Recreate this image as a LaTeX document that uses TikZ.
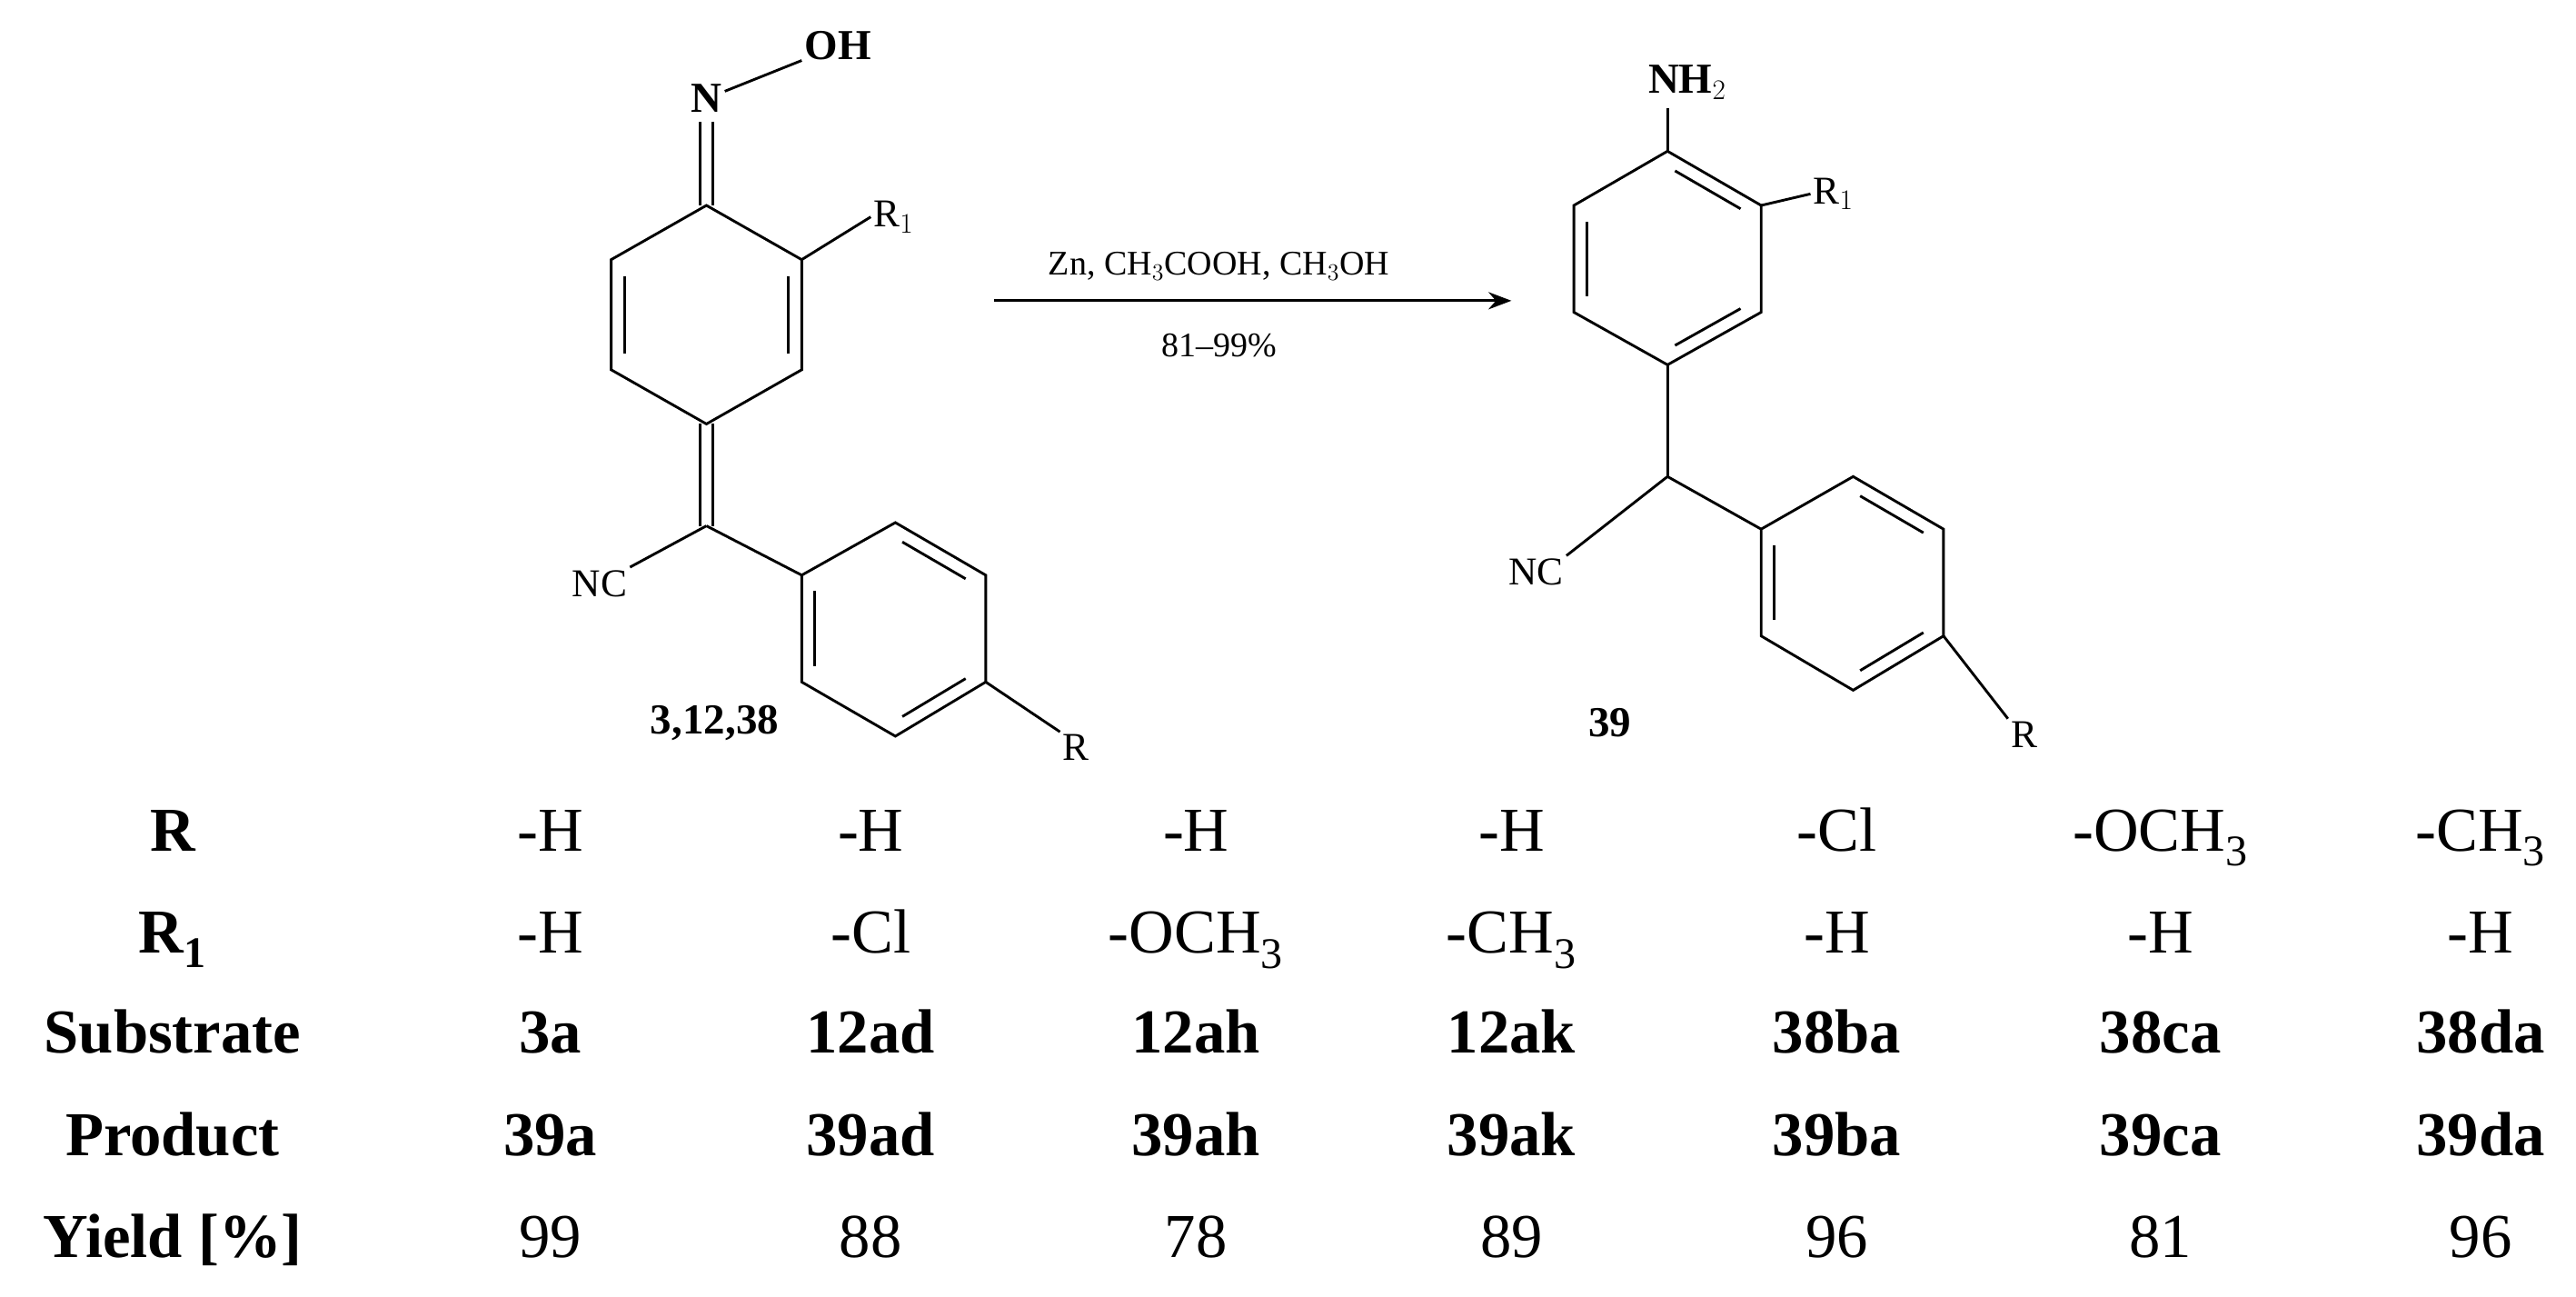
\documentclass[tikz,border=0pt]{standalone}
\usepackage{fontspec}
\setmainfont{Liberation Serif}
\usetikzlibrary{calc,arrows.meta}
\newcommand{\sth}{\textsubscript{3}}
\begin{document}
\begin{tikzpicture}[x=1pt,y=-1pt,line width=1.6pt,
  lab/.style={font=\fontsize{24}{26}\selectfont,inner sep=1pt},
  tb/.style={font=\fontsize{38}{40}\selectfont,anchor=base},
  tbb/.style={font=\bfseries\fontsize{38}{40}\selectfont,anchor=base}]
\useasboundingbox (0,0) rectangle (1568,789);
% left molecule
\coordinate (a1) at (430,125);\coordinate (a2) at (488,158);\coordinate (a3) at (488,225);
\coordinate (a4) at (430,258);\coordinate (a5) at (372,225);\coordinate (a6) at (372,158);
\draw (a1)--(a2)--(a3)--(a4)--(a5)--(a6)--cycle;
\draw ($(a2)!0.15!(a3)+(-8,0)$)--($(a2)!0.85!(a3)+(-8,0)$);
\draw ($(a5)!0.15!(a6)+(8,0)$)--($(a5)!0.85!(a6)+(8,0)$);
\node[lab,font=\bfseries\fontsize{26}{28}\selectfont] (N) at (430,60) {N};
\node[lab,font=\bfseries\fontsize{26}{28}\selectfont] (OH) at (510,28) {OH};
\draw (N)--(OH);
\draw (426,74)--(426,125);\draw (434,74)--(434,125);
\node[lab,anchor=west] (R1a) at (530,132) {R$_1$};
\draw (a2)--(R1a.west);
\coordinate (c1) at (430,320);
\draw (426,258)--(426,320);\draw (434,258)--(434,320);
\node[lab] (NCa) at (365,355) {NC};
\draw (c1)--(NCa.north east);
\coordinate (p1) at (488,350);\coordinate (p2) at (545,318);\coordinate (p3) at (600,350);
\coordinate (p4) at (600,415);\coordinate (p5) at (545,448);\coordinate (p6) at (488,415);
\draw (c1)--(p1);
\draw (p1)--(p2)--(p3)--(p4)--(p5)--(p6)--cycle;
\draw ($(p2)!0.15!(p3)+(-4,7)$)--($(p2)!0.85!(p3)+(-4,7)$);
\draw ($(p4)!0.15!(p5)+(-4,-7)$)--($(p4)!0.85!(p5)+(-4,-7)$);
\draw ($(p6)!0.15!(p1)+(8,0)$)--($(p6)!0.85!(p1)+(8,0)$);
\node[lab] (Ra) at (655,455) {R};
\draw (p4)--(Ra.north west);
\node[lab,font=\bfseries\fontsize{26}{28}\selectfont] (la) at (435,440) {3,12,38};
% arrow
\coordinate (ar1) at (605,183);\coordinate (ar2) at (920,183);
\draw[-{Stealth[length=14pt]}] (ar1)--(ar2);
\node[lab,font=\fontsize{21}{24}\selectfont] (cond) at (742,162) {Zn, CH$_3$COOH, CH$_3$OH};
\node[lab,font=\fontsize{21}{24}\selectfont] (yl) at (742,210) {81--99\%};
% right molecule
\coordinate (b1) at (1015,92);\coordinate (b2) at (1072,125);\coordinate (b3) at (1072,190);
\coordinate (b4) at (1015,222);\coordinate (b5) at (958,190);\coordinate (b6) at (958,125);
\draw (b1)--(b2)--(b3)--(b4)--(b5)--(b6)--cycle;
\draw ($(b1)!0.15!(b2)+(-4,7)$)--($(b1)!0.85!(b2)+(-4,7)$);
\draw ($(b3)!0.15!(b4)+(-4,-7)$)--($(b3)!0.85!(b4)+(-4,-7)$);
\draw ($(b5)!0.15!(b6)+(8,0)$)--($(b5)!0.85!(b6)+(8,0)$);
\node[lab,font=\bfseries\fontsize{26}{28}\selectfont] (NH) at (1027,50) {NH$_2$};
\draw (b1)--(1015,66);
\node[lab,anchor=west] (R1b) at (1102,118) {R$_1$};
\draw (b2)--(R1b.west);
\coordinate (c2) at (1015,290);
\draw (b4)--(c2);
\node[lab] (NCb) at (935,348) {NC};
\draw (c2)--(NCb.north east);
\coordinate (q1) at (1072,322);\coordinate (q2) at (1128,290);\coordinate (q3) at (1183,322);
\coordinate (q4) at (1183,387);\coordinate (q5) at (1128,420);\coordinate (q6) at (1072,387);
\draw (c2)--(q1);
\draw (q1)--(q2)--(q3)--(q4)--(q5)--(q6)--cycle;
\draw ($(q2)!0.15!(q3)+(-4,7)$)--($(q2)!0.85!(q3)+(-4,7)$);
\draw ($(q4)!0.15!(q5)+(-4,-7)$)--($(q4)!0.85!(q5)+(-4,-7)$);
\draw ($(q6)!0.15!(q1)+(8,0)$)--($(q6)!0.85!(q1)+(8,0)$);
\node[lab] (Rb) at (1232,447) {R};
\draw (q4)--(Rb.north west);
\node[lab,font=\bfseries\fontsize{26}{28}\selectfont] (lb) at (980,440) {39};
% table
\foreach \y/\t in {518/R,580/R\textsubscript{1},641/Substrate,703/Product,765/Yield [\%]}
  \node[tbb] at (105,\y) {\t};
\foreach \x/\r/\ra/\s/\p/\yy in {335/-H/-H/3a/39a/99,530/-H/-Cl/12ad/39ad/88,728/-H/-OCH\sth/12ah/39ah/78,920/-H/-CH\sth/12ak/39ak/89,1118/-Cl/-H/38ba/39ba/96,1315/-OCH\sth/-H/38ca/39ca/81,1510/-CH\sth/-H/38da/39da/96}{
  \node[tb] at (\x,518) {\r};
  \node[tb] at (\x,580) {\ra};
  \node[tbb] at (\x,641) {\s};
  \node[tbb] at (\x,703) {\p};
  \node[tb] at (\x,765) {\yy};
}
\end{tikzpicture}
\end{document}
